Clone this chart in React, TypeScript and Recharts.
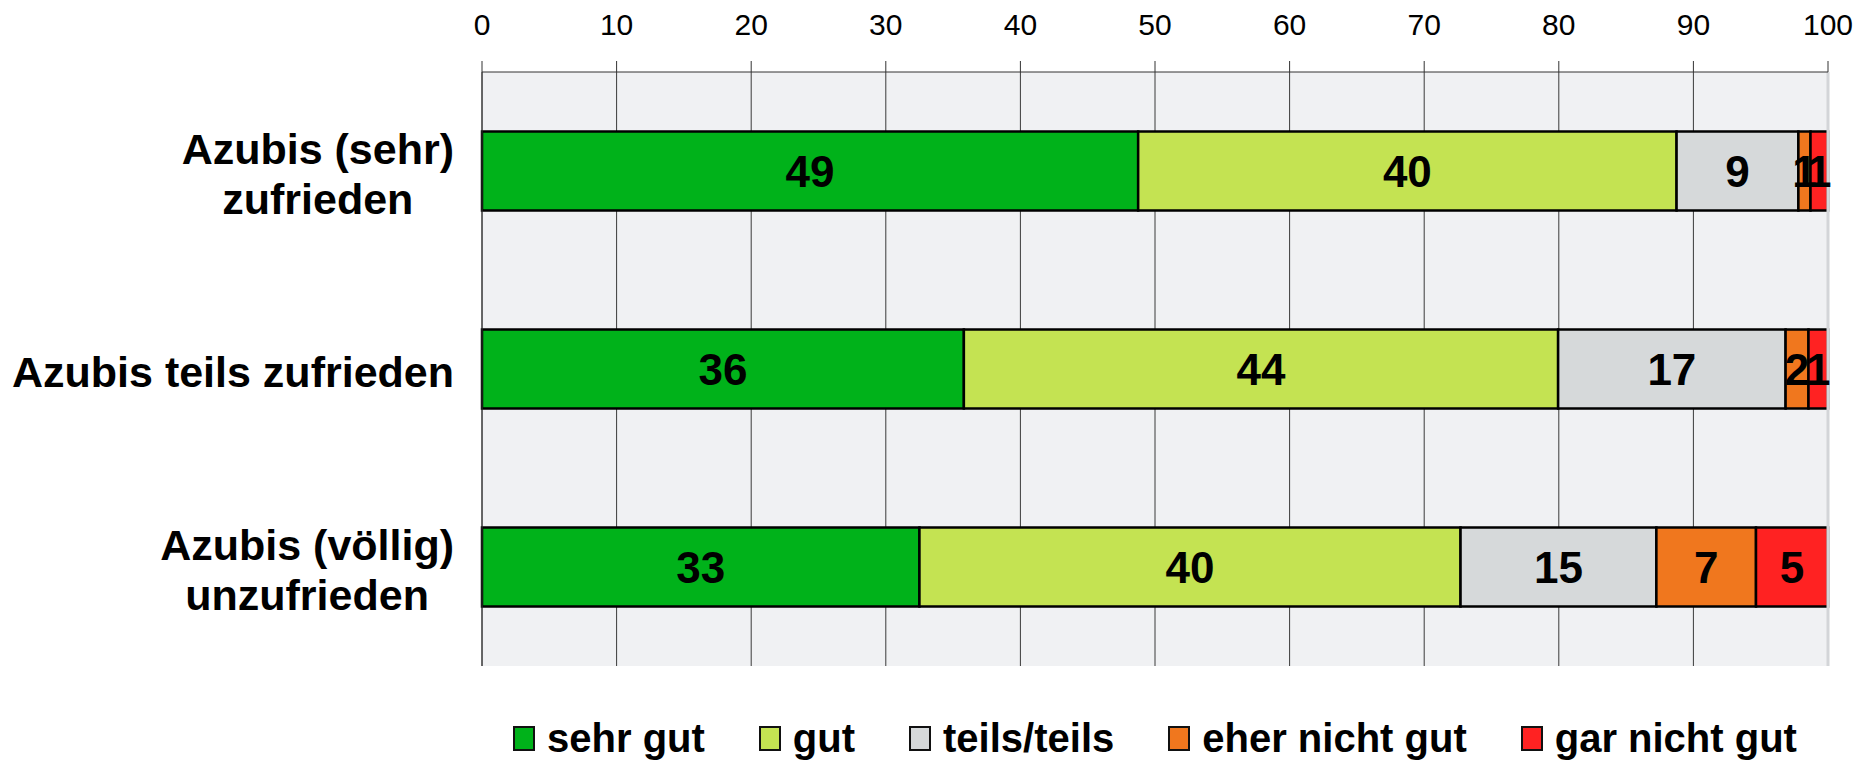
import React from 'react';
import { BarChart, Bar, XAxis, YAxis, CartesianGrid, LabelList, Legend, ReferenceLine } from 'recharts';

const FONT = '"Liberation Sans", Arial, sans-serif';

const categories = ['Azubis (sehr)\nzufrieden', 'Azubis teils zufrieden', 'Azubis (völlig)\nunzufrieden'];
// shares in percent (labels are the rounded values)
const sehrGut = [48.75, 35.8, 32.5];
const gut = [40.0, 44.15, 40.2];
const teilsTeils = [9.05, 16.9, 14.55];
const eherNichtGut = [0.9, 1.7, 7.4];
const garNichtGut = [1.3, 1.45, 5.35];
const xTicks = [0, 10, 20, 30, 40, 50, 60, 70, 80, 90, 100];
const gridTicks = [0, 1, 2, 3];

const SERIES = [
    { key: 'sehrGut', name: 'sehr gut', color: '#00B21A', values: sehrGut },
    { key: 'gut', name: 'gut', color: '#C4E352', values: gut },
    { key: 'teilsTeils', name: 'teils/teils', color: '#D6D9DA', values: teilsTeils },
    { key: 'eherNichtGut', name: 'eher nicht gut', color: '#F0771E', values: eherNichtGut },
    { key: 'garNichtGut', name: 'gar nicht gut', color: '#FF2222', values: garNichtGut },
];

const data = categories.map((name, i) => {
    const row: Record<string, any> = { name };
    SERIES.forEach(s => { row[s.key] = s.values[i]; });
    return row;
});

const LABEL_FONT = `bold 43px ${FONT}`;
let ctx: CanvasRenderingContext2D | null = null;
const measure = (s: string) => {
    if (!ctx) ctx = document.createElement('canvas').getContext('2d');
    if (!ctx) return s.length * 22;
    ctx.font = LABEL_FONT;
    return ctx.measureText(s).width;
};

// category label: lines centred on each other, block right-aligned against the axis
const CategoryTick = (props: any) => {
    const { x, y, payload } = props;
    const lines = String(payload.value).split('\n');
    const w = Math.max(...lines.map(measure));
    const cx = x - w / 2;
    const lh = 50;
    const y0 = y - ((lines.length - 1) * lh) / 2 + 3;
    return (
        <g>
            {lines.map((l, i) => (
                <text key={i} x={cx} y={y0 + i * lh} textAnchor="middle" dominantBaseline="central"
                    fontSize={43} fontWeight={700} fontFamily={FONT} fill="#000">
                    {l}
                </text>
            ))}
        </g>
    );
};

const LegendContent = () => (
    <div style={{ display: 'flex', justifyContent: 'center', alignItems: 'center', height: 60, fontFamily: FONT }}>
        {SERIES.map(s => (
            <div key={s.key} style={{ display: 'flex', alignItems: 'center', margin: '0 27px' }}>
                <span style={{ width: 18, height: 21, background: s.color, border: '2px solid #111', display: 'inline-block' }} />
                <span style={{ fontSize: 40, fontWeight: 700, marginLeft: 12, color: '#000', lineHeight: '60px' }}>{s.name}</span>
            </div>
        ))}
    </div>
);

export default function App() {
    return (
        <div style={{ position: 'absolute', left: 0, top: 0, width: 1876, height: 763, background: '#fff' }}>
            <BarChart
                width={1876}
                height={763}
                data={data}
                layout="vertical"
                barCategoryGap="30%"
                margin={{ top: 22, right: 48, bottom: 37, left: 11 }}
            >
                <CartesianGrid horizontal={false} stroke="#3a3a3a" fill="#F0F1F3" fillOpacity={1} />
                <XAxis
                    type="number"
                    orientation="top"
                    domain={[0, 100]}
                    ticks={xTicks}
                    height={50}
                    tickSize={11}
                    tickMargin={26}
                    axisLine={{ stroke: '#333' }}
                    tickLine={{ stroke: '#333' }}
                    tick={{ fill: '#000', fontSize: 30, fontFamily: FONT }}
                />
                {/* left axis line with ticks on the category boundaries */}
                <YAxis
                    type="number"
                    domain={[0, 3]}
                    ticks={gridTicks}
                    width={1}
                    tickSize={11}
                    tick={false}
                    axisLine={{ stroke: '#333' }}
                    tickLine={{ stroke: '#333' }}
                />
                <YAxis
                    yAxisId="cat"
                    type="category"
                    dataKey="name"
                    width={470}
                    tickSize={0}
                    tickMargin={27}
                    axisLine={false}
                    tickLine={false}
                    tick={<CategoryTick />}
                />
                <ReferenceLine x={100} yAxisId="cat" stroke="#D3D5D8" strokeWidth={3} />
                <Legend verticalAlign="bottom" height={60} content={<LegendContent />}
                    wrapperStyle={{ left: 482, width: 1346, top: 708, height: 60 }} />
                {SERIES.map(s => (
                    <Bar key={s.key} yAxisId="cat" dataKey={s.key} name={s.name} stackId="a" fill={s.color}
                        stroke="#000" strokeWidth={2.5} isAnimationActive={false}>
                        <LabelList dataKey={s.key} position="center" fill="#000" fontSize={44}
                            fontWeight={700} fontFamily={FONT}
                            formatter={(v: any) => Math.round(Number(v))} />
                    </Bar>
                ))}
            </BarChart>
        </div>
    );
}
